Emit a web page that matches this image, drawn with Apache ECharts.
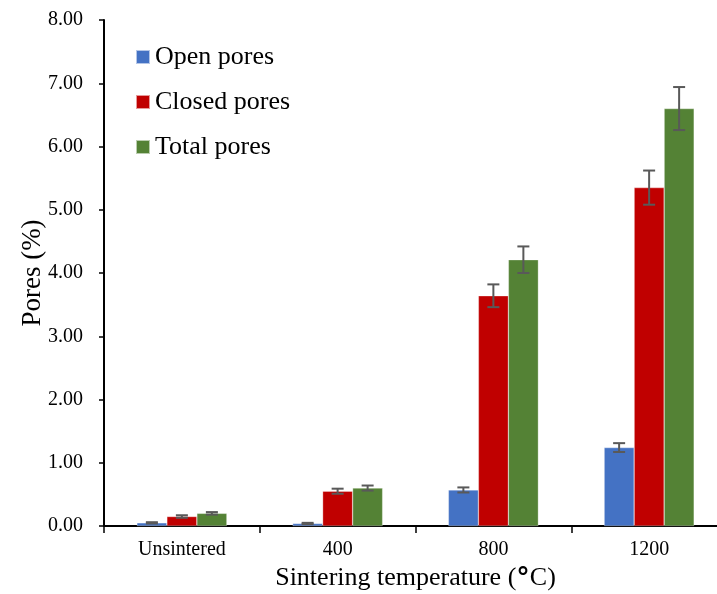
<!DOCTYPE html>
<html>
<head>
<meta charset="utf-8">
<script src="https://cdn.jsdelivr.net/npm/echarts@6/dist/echarts.min.js"></script>
<style>
  html, body { margin: 0; padding: 0; background: #fff; }
  #chart { width: 717px; height: 594px; }
</style>
</head>
<body>
<div id="chart"></div>
<script>
// Porosity vs. sintering temperature
var categories = ['Unsintered', '400', '800', '1200'];
var openPores   = [0.05, 0.04, 0.57, 1.24];
var closedPores = [0.15, 0.55, 3.64, 5.35];
var totalPores  = [0.20, 0.60, 4.21, 6.60];
var openErr   = [0.01, 0.01, 0.04, 0.07];
var closedErr = [0.02, 0.04, 0.18, 0.27];
var totalErr  = [0.02, 0.04, 0.21, 0.34];
var yTicks = [0, 1, 2, 3, 4, 5, 6, 7, 8];

var seriesNames = ['Open pores', 'Closed pores', 'Total pores'];
var colors = ['#4472C4', '#C00000', '#548235'];
var BAR_W = 30;
var FONT = '"Liberation Serif", "Times New Roman", serif';

var chart = echarts.init(document.getElementById('chart'), null, { renderer: 'canvas' });

function errorSeries(values, errs, offsetIndex) {
  var data = values.map(function (v, i) { return [i, v, errs[i]]; });
  return {
    type: 'custom',
    silent: true,
    z: 10,
    data: data,
    renderItem: function (params, api) {
      var i = api.value(0), v = api.value(1), e = api.value(2);
      var hi = api.coord([i, v + e]);
      var lo = api.coord([i, v - e]);
      var x = hi[0] + (offsetIndex - 1) * BAR_W;
      var cap = 6;
      var st = { stroke: '#595959', lineWidth: 2 };
      return {
        type: 'group',
        children: [
          { type: 'line', shape: { x1: x, y1: hi[1], x2: x, y2: lo[1] }, style: st },
          { type: 'line', shape: { x1: x - cap, y1: hi[1], x2: x + cap, y2: hi[1] }, style: st },
          { type: 'line', shape: { x1: x - cap, y1: lo[1], x2: x + cap, y2: lo[1] }, style: st }
        ]
      };
    }
  };
}

function barSeries(name, values, color) {
  return {
    name: name,
    type: 'bar',
    data: values,
    barWidth: BAR_W,
    barGap: '0%',
    itemStyle: { color: color, borderColor: 'rgba(255,255,255,0.6)', borderWidth: 0.5 }
  };
}

var option = {
  animation: false,
  backgroundColor: '#fff',
  grid: {
    left: 104, right: -10, top: 20, bottom: 68,
    containLabel: false,
    outerBoundsMode: 'none'
  },
  legend: {
    orient: 'vertical',
    left: 135,
    top: 44,
    padding: 0,
    itemWidth: 14,
    itemHeight: 14,
    itemGap: 19,
    icon: 'rect',
    data: seriesNames,
    textStyle: { fontFamily: FONT, fontSize: 26, color: '#000', lineHeight: 26 }
  },
  xAxis: {
    type: 'category',
    data: categories,
    name: 'Sintering temperature ({deg|°}C)',
    nameLocation: 'middle',
    nameGap: 39,
    nameMoveOverlap: false,
    nameTextStyle: {
      fontFamily: FONT, fontSize: 26, color: '#000',
      rich: { deg: { fontFamily: '"DejaVu Sans", sans-serif', fontWeight: 'bold', fontSize: 27, color: '#000' } }
    },
    axisLine: { lineStyle: { color: '#000', width: 2 } },
    axisTick: { show: true, length: 7, lineStyle: { color: '#000', width: 1.5 } },
    axisLabel: { fontFamily: FONT, fontSize: 20, color: '#000', margin: 14 }
  },
  yAxis: {
    type: 'value',
    min: yTicks[0],
    max: yTicks[yTicks.length - 1],
    interval: 1,
    name: 'Pores (%)',
    nameLocation: 'middle',
    nameGap: 58,
    nameMoveOverlap: false,
    nameTextStyle: { fontFamily: FONT, fontSize: 27, color: '#000' },
    axisLine: { show: true, lineStyle: { color: '#000', width: 2 } },
    axisTick: { show: true, length: 5, lineStyle: { color: '#000', width: 1.5 } },
    splitLine: { show: false },
    axisLabel: {
      fontFamily: FONT, fontSize: 20, color: '#000', margin: 21,
      formatter: function (v) { return v.toFixed(2); }
    }
  },
  series: [
    barSeries(seriesNames[0], openPores, colors[0]),
    barSeries(seriesNames[1], closedPores, colors[1]),
    barSeries(seriesNames[2], totalPores, colors[2]),
    errorSeries(openPores, openErr, 0),
    errorSeries(closedPores, closedErr, 1),
    errorSeries(totalPores, totalErr, 2)
  ]
};

chart.setOption(option);
</script>
</body>
</html>
